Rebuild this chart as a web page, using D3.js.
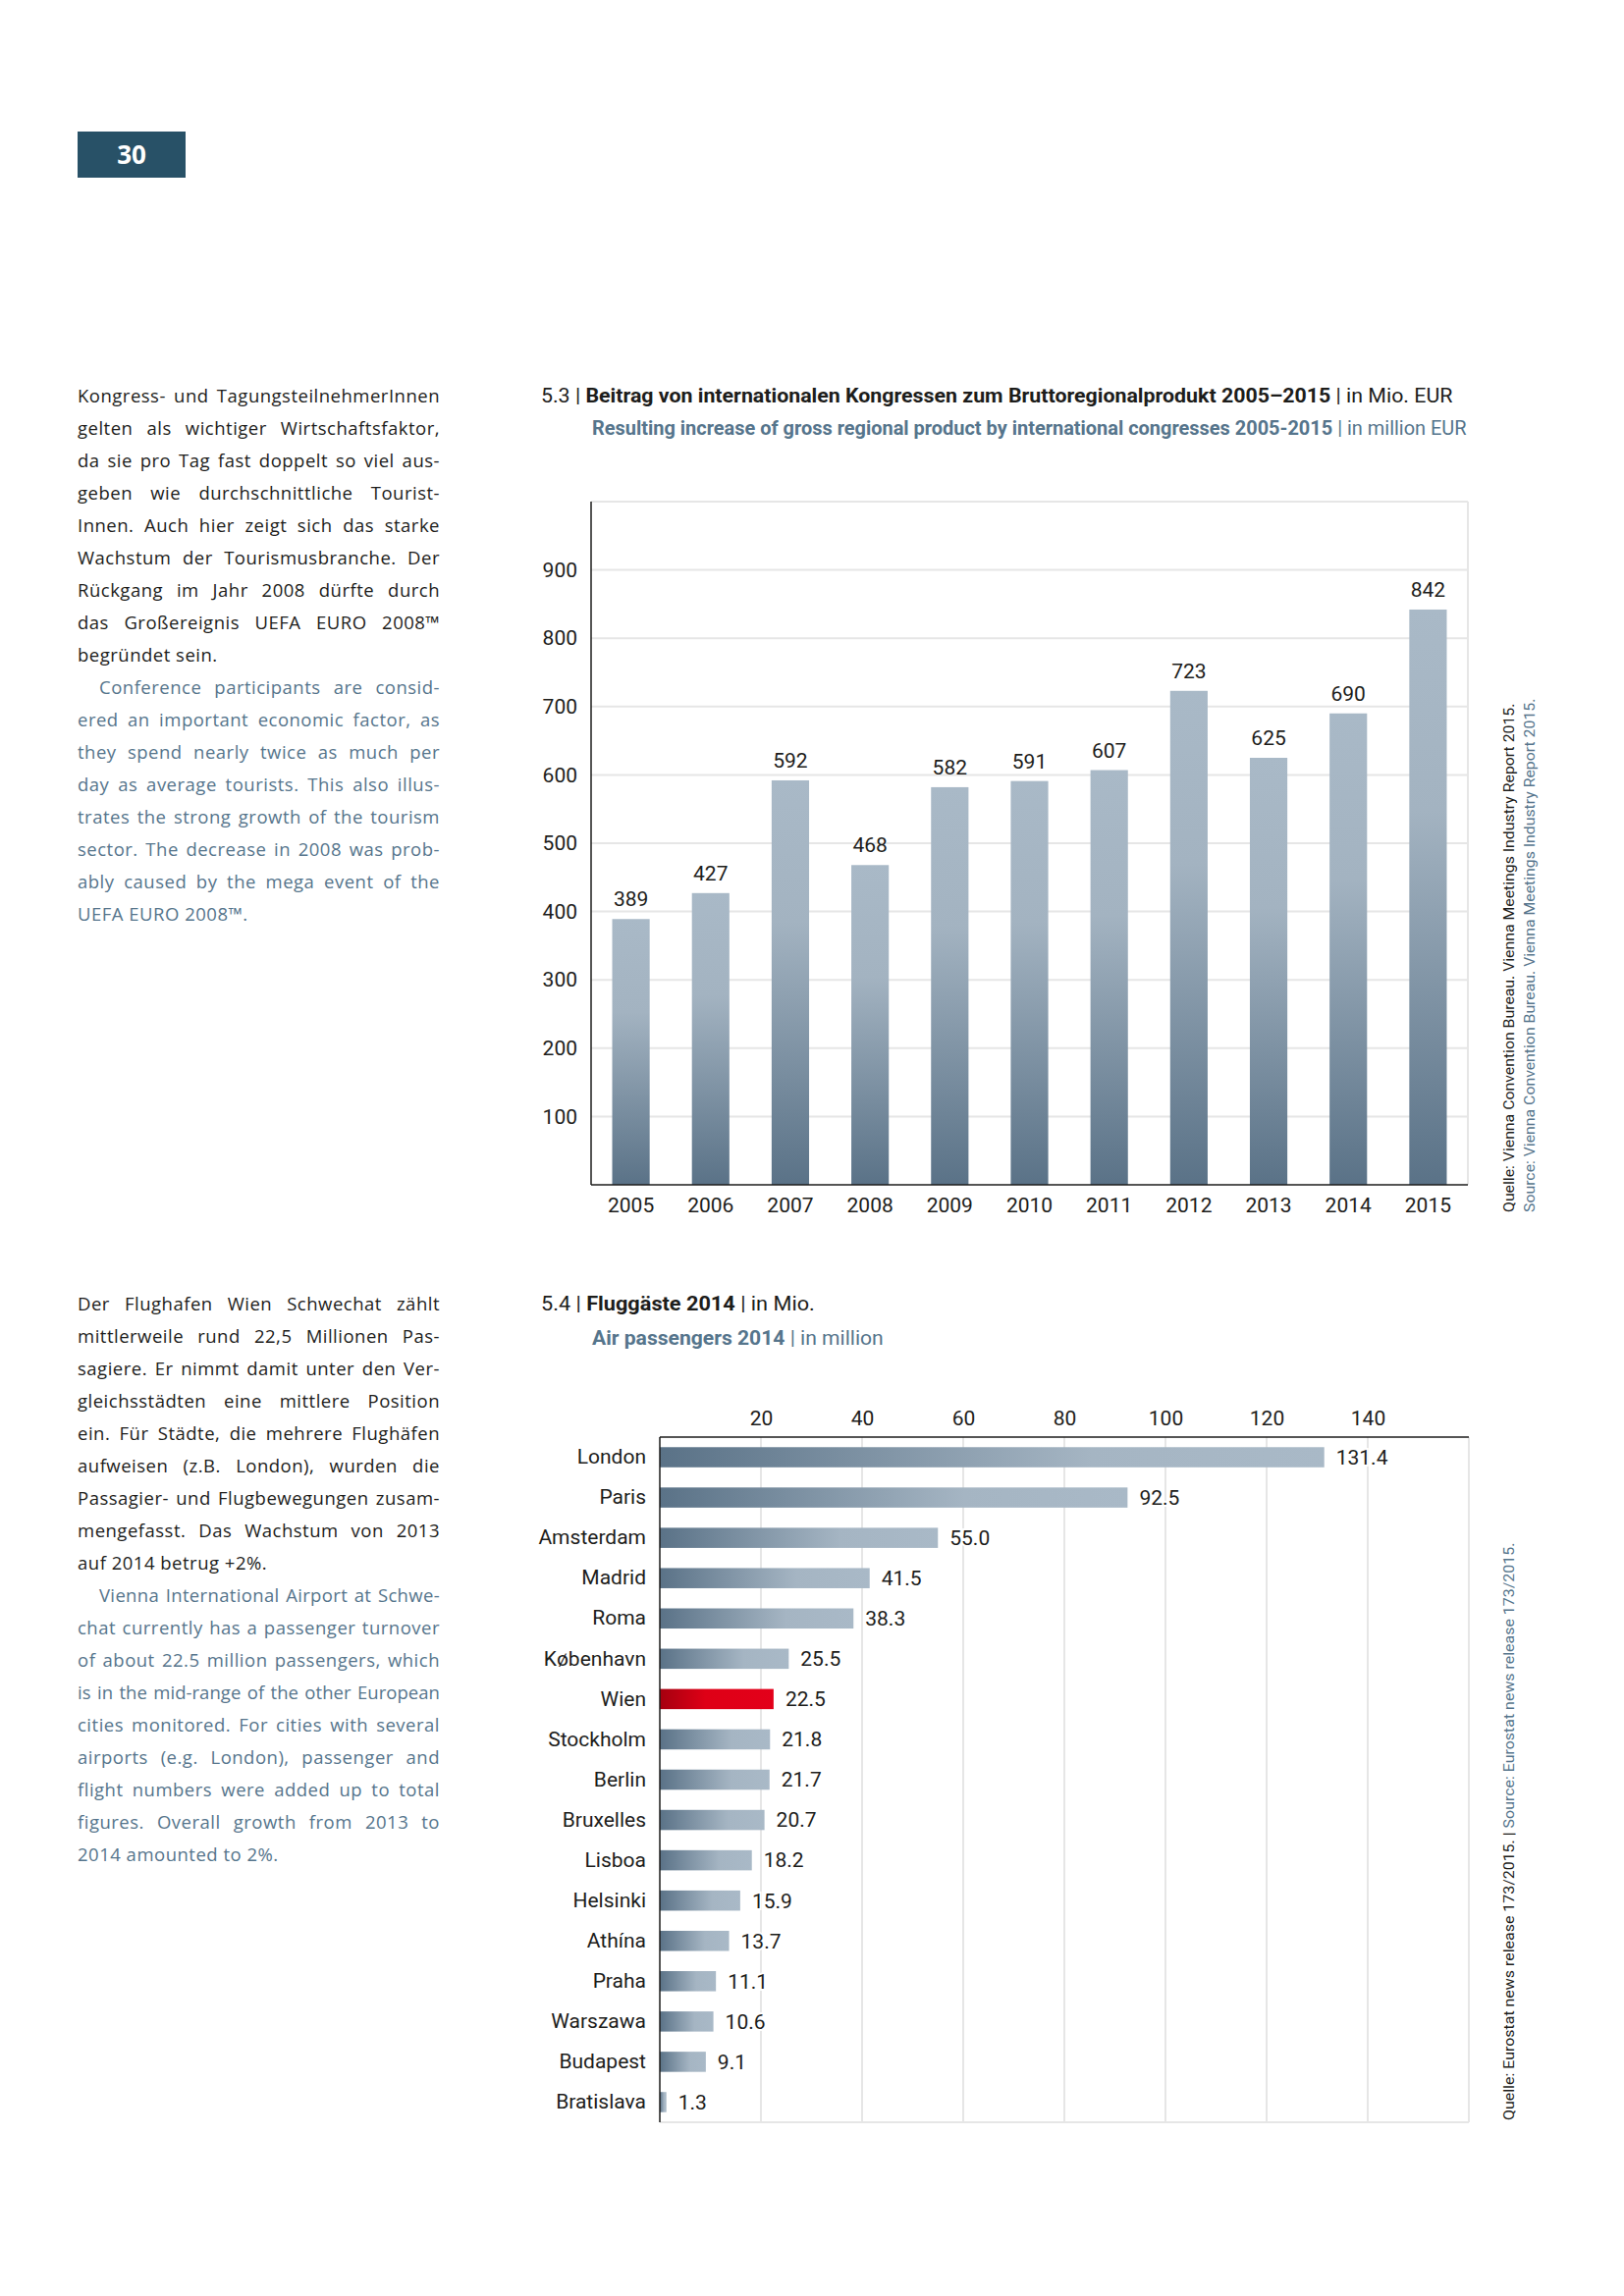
<!DOCTYPE html>
<html>
<head>
<meta charset="utf-8">
<script src="https://cdn.jsdelivr.net/npm/d3@7"></script>
<style>
  body { margin: 0; background: #fff; }
  svg { display: block; }
</style>
</head>
<body>
<svg id="page" width="1654" height="2339"></svg>
<script>
// chart 5.3 data
const years = ['2005', '2006', '2007', '2008', '2009', '2010', '2011', '2012', '2013', '2014', '2015'];
const contribution = [389, 427, 592, 468, 582, 591, 607, 723, 625, 690, 842];
const contributionTicks = [100, 200, 300, 400, 500, 600, 700, 800, 900];

// chart 5.4 data
const cities = ['London', 'Paris', 'Amsterdam', 'Madrid', 'Roma', 'København', 'Wien', 'Stockholm', 'Berlin',
  'Bruxelles', 'Lisboa', 'Helsinki', 'Athína', 'Praha', 'Warszawa', 'Budapest', 'Bratislava'];
const passengers = [131.4, 92.5, 55.0, 41.5, 38.3, 25.5, 22.5, 21.8, 21.7, 20.7, 18.2, 15.9, 13.7, 11.1, 10.6, 9.1, 1.3];
const passengerTicks = [20, 40, 60, 80, 100, 120, 140];
const highlightCity = 'Wien';

// side text
const textDe1 = [
  'Kongress- und TagungsteilnehmerInnen',
  'gelten als wichtiger Wirtschaftsfaktor,',
  'da sie pro Tag fast doppelt so viel aus-',
  'geben wie durchschnittliche Tourist-',
  'Innen. Auch hier zeigt sich das starke',
  'Wachstum der Tourismusbranche. Der',
  'Rückgang im Jahr 2008 dürfte durch',
  'das Großereignis UEFA EURO 2008™',
  'begründet sein.'
];
const textEn1 = [
  'Conference participants are consid-',
  'ered an important economic factor, as',
  'they spend nearly twice as much per',
  'day as average tourists. This also illus-',
  'trates the strong growth of the tourism',
  'sector. The decrease in 2008 was prob-',
  'ably caused by the mega event of the',
  'UEFA EURO 2008™.'
];
const textDe2 = [
  'Der Flughafen Wien Schwechat zählt',
  'mittlerweile rund 22,5 Millionen Pas-',
  'sagiere. Er nimmt damit unter den Ver-',
  'gleichsstädten eine mittlere Position',
  'ein. Für Städte, die mehrere Flughäfen',
  'aufweisen (z.B. London), wurden die',
  'Passagier- und Flugbewegungen zusam-',
  'mengefasst. Das Wachstum von 2013',
  'auf 2014 betrug +2%.'
];
const textEn2 = [
  'Vienna International Airport at Schwe-',
  'chat currently has a passenger turnover',
  'of about 22.5 million passengers, which',
  'is in the mid-range of the other European',
  'cities monitored. For cities with several',
  'airports (e.g. London), passenger and',
  'flight numbers were added up to total',
  'figures. Overall growth from 2013 to',
  '2014 amounted to 2%.'
];

const ink = '#1d1d1b';
const blue = '#56758c';
const gridColor = '#e6e6e6';
const labelFont = 'Roboto, "Liberation Sans", sans-serif';
const textFont = '"Open Sans", "Noto Sans", sans-serif';

const svg = d3.select('#page');
svg.append('rect').attr('width', 1654).attr('height', 2339).attr('fill', '#fff');

const defs = svg.append('defs');
const gradV = defs.append('linearGradient').attr('id', 'barV')
  .attr('x1', 0).attr('y1', 0).attr('x2', 0).attr('y2', 1);
gradV.append('stop').attr('offset', '0%').attr('stop-color', '#a9b9c7');
gradV.append('stop').attr('offset', '35%').attr('stop-color', '#a3b3c1');
gradV.append('stop').attr('offset', '100%').attr('stop-color', '#5a7287');

const gradH = defs.append('linearGradient').attr('id', 'barH')
  .attr('x1', 0).attr('y1', 0).attr('x2', 1).attr('y2', 0);
gradH.append('stop').attr('offset', '0%').attr('stop-color', '#5a7287');
gradH.append('stop').attr('offset', '65%').attr('stop-color', '#a5b5c3');
gradH.append('stop').attr('offset', '100%').attr('stop-color', '#a9b9c7');

const gradRed = defs.append('linearGradient').attr('id', 'barRed')
  .attr('x1', 0).attr('y1', 0).attr('x2', 1).attr('y2', 0);
gradRed.append('stop').attr('offset', '0%').attr('stop-color', '#a5000f');
gradRed.append('stop').attr('offset', '40%').attr('stop-color', '#de0016');
gradRed.append('stop').attr('offset', '100%').attr('stop-color', '#e3001a');

// page number
svg.append('rect').attr('x', 79).attr('y', 134).attr('width', 110).attr('height', 47).attr('fill', '#285167');
svg.append('text').attr('x', 134).attr('y', 167).attr('text-anchor', 'middle')
  .attr('font-family', textFont).attr('font-weight', 700).attr('font-size', 26)
  .attr('fill', '#fff').text('30');

// justified side text: spread word gaps, tighten letters when a line is too long
function paragraph(lines, y0, color, indent) {
  const left = 79, width = 369, lead = 33, track = 0.5;
  lines.forEach((line, i) => {
    const dx = i === 0 ? indent : 0;
    const t = svg.append('text')
      .attr('x', left + dx).attr('y', y0 + i * lead)
      .attr('font-family', textFont).attr('font-size', 18.5)
      .attr('letter-spacing', track)
      .attr('fill', color).text(line);
    if (i < lines.length - 1) {
      const natural = t.node().getComputedTextLength();
      const gaps = line.split(' ').length - 1;
      const extra = width - dx - natural;
      if (extra < gaps * 1) {
        // too tight: take the shortfall out of the letter spacing
        const ls = track + (extra - gaps * 1.5) / line.length;
        t.attr('letter-spacing', ls);
        const n2 = t.node().getComputedTextLength();
        if (gaps > 0) t.attr('word-spacing', (width - dx - n2) / gaps);
      } else if (gaps > 0) {
        t.attr('word-spacing', extra / gaps);
      }
    }
  });
}
paragraph(textDe1, 410, ink, 0);
paragraph(textEn1, 410 + textDe1.length * 33, blue, 22);
paragraph(textDe2, 1335, ink, 0);
paragraph(textEn2, 1335 + textDe2.length * 33, blue, 22);

// a line of mixed text squeezed to a target width
function fitLine(parts, transform, width, size) {
  const t = svg.append('text').attr('font-family', labelFont).attr('font-size', size);
  parts.forEach(p => t.append('tspan')
    .attr('font-weight', p.bold ? 700 : 400)
    .attr('fill', p.color || ink)
    .text(p.text));
  const w = t.node().getComputedTextLength();
  t.attr('transform', transform + ` scale(${width / w},1)`);
  return t;
}

// ---------- chart 5.3 ----------
fitLine([
  { text: '5.3 | ' },
  { text: 'Beitrag von internationalen Kongressen zum Bruttoregionalprodukt 2005–2015', bold: true },
  { text: ' | in Mio. EUR' }
], 'translate(551,410)', 929, 20);
fitLine([
  { text: 'Resulting increase of gross regional product by international congresses 2005-2015', bold: true, color: blue },
  { text: ' | in million EUR', color: blue }
], 'translate(603,443)', 891, 20);

const x1 = d3.scaleBand().domain(years).range([602, 1495]).paddingInner(0.53).paddingOuter(0.265);
const y1 = d3.scaleLinear().domain([0, 1000]).range([1207, 511]);
const c1 = svg.append('g');

c1.selectAll('line.grid')
  .data(contributionTicks.concat([y1.domain()[1]]))
  .enter().append('line')
  .attr('x1', x1.range()[0]).attr('x2', x1.range()[1])
  .attr('y1', d => y1(d)).attr('y2', d => y1(d))
  .attr('stroke', gridColor).attr('stroke-width', 2);
c1.append('line')
  .attr('x1', x1.range()[1]).attr('x2', x1.range()[1])
  .attr('y1', y1.range()[1]).attr('y2', y1.range()[0])
  .attr('stroke', gridColor).attr('stroke-width', 2);

c1.selectAll('rect.bar')
  .data(contribution)
  .enter().append('rect')
  .attr('x', (d, i) => x1(years[i]))
  .attr('y', d => y1(d))
  .attr('width', x1.bandwidth())
  .attr('height', d => y1(0) - y1(d))
  .attr('fill', 'url(#barV)');

c1.selectAll('text.value')
  .data(contribution)
  .enter().append('text')
  .attr('x', (d, i) => x1(years[i]) + x1.bandwidth() / 2)
  .attr('y', d => y1(d) - 13)
  .attr('text-anchor', 'middle')
  .attr('font-family', labelFont).attr('font-size', 21).attr('fill', ink)
  .text(d => d);

const yAxis1 = c1.append('g')
  .attr('transform', `translate(${x1.range()[0]},0)`)
  .call(d3.axisLeft(y1).tickValues(contributionTicks).tickSize(0).tickPadding(14));
yAxis1.select('.domain').remove();
yAxis1.selectAll('text').attr('font-family', labelFont).attr('font-size', 21).attr('fill', ink);

const xAxis1 = c1.append('g')
  .attr('transform', `translate(0,${y1(0)})`)
  .call(d3.axisBottom(x1).tickSize(0).tickPadding(13));
xAxis1.select('.domain').remove();
xAxis1.selectAll('text').attr('font-family', labelFont).attr('font-size', 21).attr('fill', ink);

c1.append('line')
  .attr('x1', x1.range()[0]).attr('x2', x1.range()[0])
  .attr('y1', y1.range()[1]).attr('y2', y1.range()[0])
  .attr('stroke', ink).attr('stroke-width', 1.5);
c1.append('line')
  .attr('x1', x1.range()[0]).attr('x2', x1.range()[1])
  .attr('y1', y1(0)).attr('y2', y1(0))
  .attr('stroke', ink).attr('stroke-width', 1.5);

fitLine([{ text: 'Quelle: Vienna Convention Bureau. Vienna Meetings Industry Report 2015.' }],
  'translate(1542,1235) rotate(-90)', 519, 15);
fitLine([{ text: 'Source: Vienna Convention Bureau. Vienna Meetings Industry Report 2015.', color: blue }],
  'translate(1563,1235) rotate(-90)', 524, 15);

// ---------- chart 5.4 ----------
fitLine([
  { text: '5.4 | ' },
  { text: 'Fluggäste 2014', bold: true },
  { text: ' | in Mio.' }
], 'translate(551,1335)', 279, 20);
fitLine([
  { text: 'Air passengers 2014', bold: true, color: blue },
  { text: ' | in million', color: blue }
], 'translate(603,1370)', 297, 20);

const x2 = d3.scaleLinear().domain([0, 160]).range([672, 1496]);
const y2 = d3.scaleBand().domain(cities).range([1464, 2162]).paddingInner(0.5).paddingOuter(0.25);
const c2 = svg.append('g');

c2.selectAll('line.grid')
  .data(passengerTicks.concat([x2.domain()[1]]))
  .enter().append('line')
  .attr('x1', d => x2(d)).attr('x2', d => x2(d))
  .attr('y1', y2.range()[0]).attr('y2', y2.range()[1])
  .attr('stroke', gridColor).attr('stroke-width', 2);
c2.append('line')
  .attr('x1', x2.range()[0]).attr('x2', x2.range()[1])
  .attr('y1', y2.range()[1]).attr('y2', y2.range()[1])
  .attr('stroke', gridColor).attr('stroke-width', 2);

c2.selectAll('rect.bar')
  .data(passengers)
  .enter().append('rect')
  .attr('x', x2(0))
  .attr('y', (d, i) => y2(cities[i]))
  .attr('width', d => x2(d) - x2(0))
  .attr('height', y2.bandwidth())
  .attr('fill', (d, i) => cities[i] === highlightCity ? 'url(#barRed)' : 'url(#barH)');

c2.selectAll('text.value')
  .data(passengers)
  .enter().append('text')
  .attr('x', d => x2(d) + 12)
  .attr('y', (d, i) => y2(cities[i]) + y2.bandwidth() / 2)
  .attr('dy', '0.35em')
  .attr('font-family', labelFont).attr('font-size', 21).attr('fill', ink)
  .attr('stroke', '#fff').attr('stroke-width', 4).attr('paint-order', 'stroke')
  .text(d => d3.format('.1f')(d));

const yAxis2 = c2.append('g')
  .attr('transform', `translate(${x2(0)},0)`)
  .call(d3.axisLeft(y2).tickSize(0).tickPadding(14));
yAxis2.select('.domain').remove();
yAxis2.selectAll('text').attr('font-family', labelFont).attr('font-size', 21).attr('fill', ink);

const xAxis2 = c2.append('g')
  .attr('transform', `translate(0,${y2.range()[0]})`)
  .call(d3.axisTop(x2).tickValues(passengerTicks).tickSize(0).tickPadding(12));
xAxis2.select('.domain').remove();
xAxis2.selectAll('text').attr('font-family', labelFont).attr('font-size', 21).attr('fill', ink);

c2.append('line')
  .attr('x1', x2(0)).attr('x2', x2(0))
  .attr('y1', y2.range()[0]).attr('y2', y2.range()[1])
  .attr('stroke', ink).attr('stroke-width', 1.5);
c2.append('line')
  .attr('x1', x2.range()[0]).attr('x2', x2.range()[1])
  .attr('y1', y2.range()[0]).attr('y2', y2.range()[0])
  .attr('stroke', ink).attr('stroke-width', 1.5);

fitLine([
  { text: 'Quelle: Eurostat news release 173/2015. | ' },
  { text: 'Source: Eurostat news release 173/2015.', color: blue }
], 'translate(1542,2160) rotate(-90)', 589, 15);
</script>
</body>
</html>
